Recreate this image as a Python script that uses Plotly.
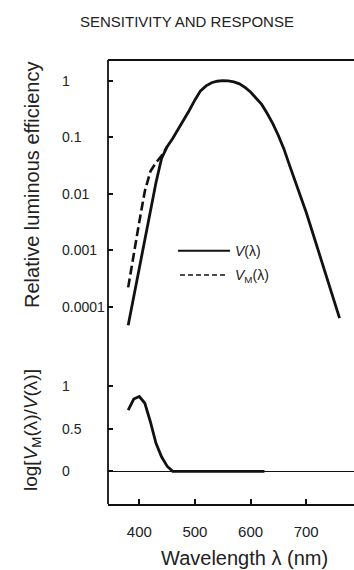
import math
import plotly.graph_objects as go

# ---- data ----
wl_v = [380, 390, 400, 410, 420, 430, 440, 450, 460, 470, 480, 490, 500, 510, 520,
        530, 540, 550, 560, 570, 580, 590, 600, 610, 620, 630, 640, 650, 660, 670,
        680, 690, 700, 710, 720, 730, 740, 750, 760]
v_lambda = [4.7e-5, 1.55e-4, 5.1e-4, 1.7e-3, 5.5e-3, 0.0158, 0.042, 0.068, 0.095, 0.138,
            0.195, 0.30, 0.457, 0.66, 0.81, 0.92, 0.977, 1.0, 0.99, 0.955,
            0.88, 0.76, 0.63, 0.50, 0.38, 0.263, 0.174, 0.107, 0.062, 0.032,
            0.017, 0.0089, 0.0047, 0.0023, 0.0011, 0.00055, 0.00026, 0.000126, 0.000063]

wl_vm = [380, 390, 400, 410, 420, 430, 440, 450]
vm_lambda = [2.2e-4, 8.9e-4, 3.2e-3, 0.0112, 0.025, 0.0355, 0.047, 0.068]

wl_diff = [380, 390, 400, 410, 420, 430, 440, 450, 460, 625]
log_ratio = [0.72, 0.85, 0.88, 0.80, 0.58, 0.33, 0.17, 0.06, 0.0, 0.0]

x_ticks = [400, 500, 600, 700]
top_ticks = [1, 0.1, 0.01, 0.001, 0.0001]
top_tick_text = ["1", "0.1", "0.01", "0.001", "0.0001"]
bot_ticks = [1, 0.5, 0]
bot_tick_text = ["1", "0.5", "0"]

# ---- layout geometry ----
W, H = 354, 570
ML, MR, MT, MB = 108, 0, 60, 66
PW, PH = W - ML - MR, H - MT - MB

def px(xp):
    return (xp - ML) / PW

def py(yp):
    return (H - MB - yp) / PH

INK = "#111111"
TXT = "#222222"
FONT = "Liberation Sans, Arial, sans-serif"

fig = go.Figure()
fig.add_trace(go.Scatter(x=wl_v, y=v_lambda, mode="lines", xaxis="x", yaxis="y",
                         line=dict(color=INK, width=2.8), showlegend=False))
fig.add_trace(go.Scatter(x=wl_vm, y=vm_lambda, mode="lines", xaxis="x", yaxis="y",
                         line=dict(color=INK, width=2.6, dash="9px,4px"), showlegend=False))
fig.add_trace(go.Scatter(x=wl_diff, y=log_ratio, mode="lines", xaxis="x", yaxis="y2",
                         line=dict(color=INK, width=2.8), showlegend=False))

def ann(text, x, y, xref="paper", yref="paper", size=14, xanchor="center",
        yanchor="middle", angle=0, color=TXT):
    return dict(text=text, x=x, y=y, xref=xref, yref=yref, xanchor=xanchor,
                yanchor=yanchor, textangle=angle, showarrow=False,
                font=dict(family=FONT, size=size, color=color))

annotations = []
annotations.append(ann("SENSITIVITY AND RESPONSE", px(187), py(22), size=15, color="#222222"))
for v, t in zip(top_ticks, top_tick_text):
    annotations.append(ann(t, px(60), math.log10(v), yref="y", xanchor="left"))
for v, t in zip(bot_ticks, bot_tick_text):
    annotations.append(ann(t, px(60), v, yref="y2", xanchor="left"))
annotations.append(ann("Relative luminous efficiency", px(32), py(185), size=20, angle=-90))
annotations.append(ann("log[<i>V</i><sub>M</sub>(λ)/<i>V</i>(λ)]", px(32), py(430), size=19, angle=-90))
annotations.append(ann("Wavelength λ (nm)", px(244.5), py(558), size=20))
annotations.append(ann("<i>V</i>(λ)", px(233), py(250.5), xanchor="left"))
annotations.append(ann("<i>V</i><sub>M</sub>(λ)", px(233), py(276), xanchor="left"))

shapes = [
    dict(type="line", xref="paper", yref="paper", x0=0, x1=0, y0=0, y1=1,
         line=dict(color=INK, width=1.8)),
    dict(type="line", xref="paper", yref="paper", x0=0, x1=1, y0=1, y1=1,
         line=dict(color=INK, width=1.8)),
    dict(type="line", xref="paper", yref="paper", x0=px(178), x1=px(230), y0=py(250.7), y1=py(250.7),
         line=dict(color=INK, width=2)),
    dict(type="line", xref="paper", yref="paper", x0=px(180), x1=px(228), y0=py(275), y1=py(275),
         line=dict(color=INK, width=1.6, dash="5px,3px")),
]

fig.update_layout(
    width=W, height=H,
    margin=dict(l=ML, r=MR, t=MT, b=MB, pad=0),
    paper_bgcolor="white", plot_bgcolor="white",
    showlegend=False,
    xaxis=dict(range=[343.7, 786], anchor="y2", showline=True, linecolor=INK, linewidth=1.8,
               ticks="inside", ticklen=5, tickcolor=INK, tickwidth=1.5,
               tickvals=x_ticks, ticktext=[str(t) for t in x_ticks],
               tickfont=dict(family=FONT, size=15, color=TXT),
               ticklabelstandoff=13,
               showgrid=False, zeroline=False, fixedrange=True),
    yaxis=dict(type="log", domain=[py(340), 1], range=[-4.589, 0.366], anchor="x",
               ticks="inside", ticklen=5, tickcolor=INK, tickwidth=1.5,
               tickvals=top_ticks, showticklabels=False,
               showgrid=False, zeroline=False, showline=False),
    yaxis2=dict(domain=[0, py(350)], range=[-0.385, 1.427], anchor="x",
                ticks="inside", ticklen=5, tickcolor=INK, tickwidth=1.5,
                tickvals=bot_ticks, showticklabels=False,
                showgrid=False, zeroline=True, zerolinecolor=INK, zerolinewidth=1.4,
                showline=False),
    annotations=annotations,
    shapes=shapes,
)

fig.write_html("out.html")
